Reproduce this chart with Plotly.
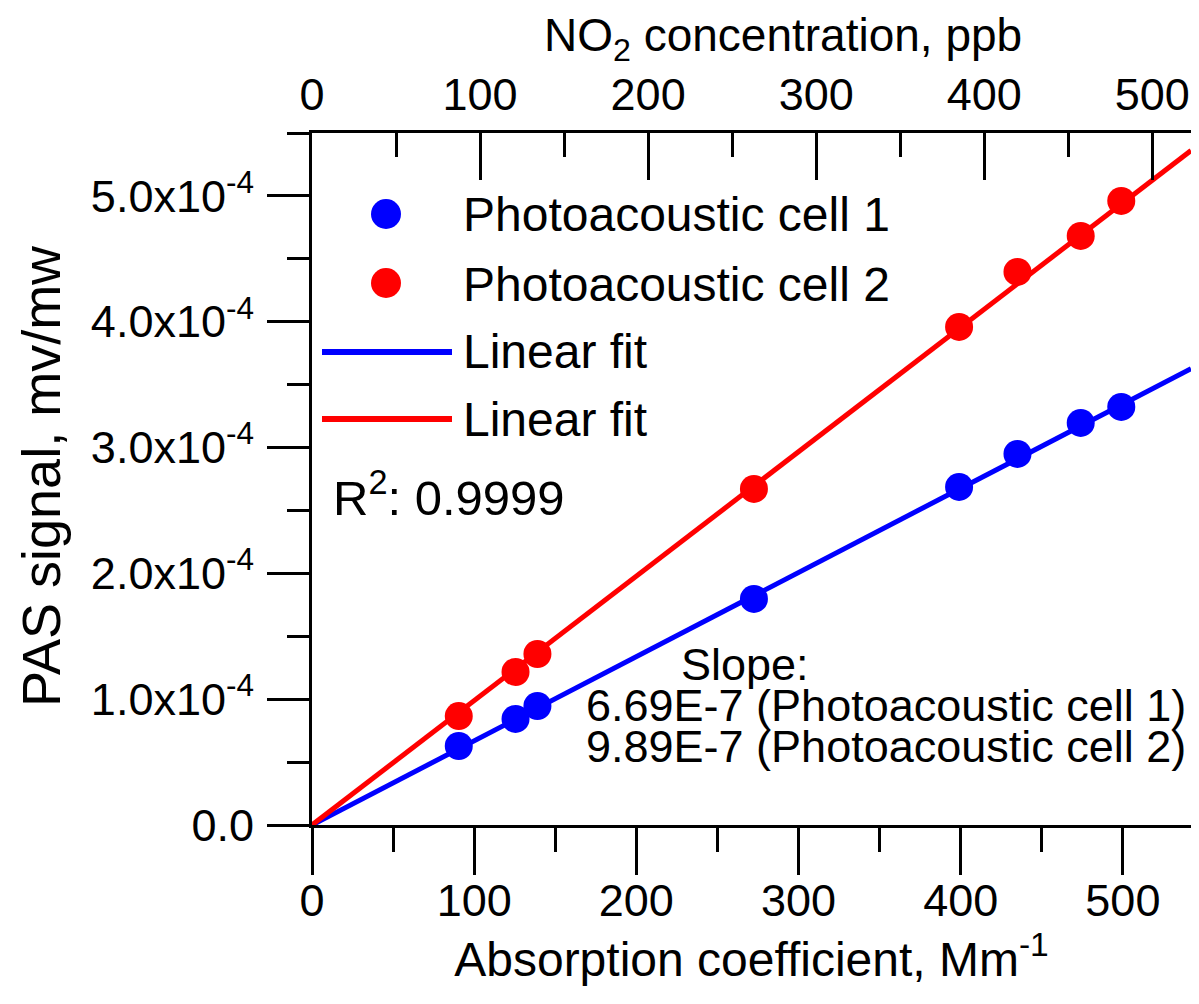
import numpy as np
import plotly.graph_objects as go

# ---------------- data ----------------
absorption = [90.5, 125.5, 139, 272.5, 399, 435, 474, 499]          # Mm^-1
cell1_signal = [0.628e-4, 0.843e-4, 0.946e-4, 1.797e-4, 2.687e-4, 2.949e-4, 3.196e-4, 3.323e-4]
cell2_signal = [0.866e-4, 1.216e-4, 1.359e-4, 2.671e-4, 3.959e-4, 4.396e-4, 4.682e-4, 4.960e-4]
slopes = [6.69e-7, 9.89e-7]
series_names = ["Photoacoustic cell 1", "Photoacoustic cell 2"]
fit_names = ["Linear fit", "Linear fit"]
r_squared = "0.9999"

x_range = [0, 542]          # absorption coefficient axis, Mm^-1
top_range = [0, 523]        # NO2 concentration axis, ppb
y_range = [0, 5.5e-4]
y_tickvals = [0, 1e-4, 2e-4, 3e-4, 4e-4, 5e-4]
y_ticktext = ["0.0", "1.0x10<sup>-4</sup>", "2.0x10<sup>-4</sup>", "3.0x10<sup>-4</sup>",
              "4.0x10<sup>-4</sup>", "5.0x10<sup>-4</sup>"]

BLUE = "#0000ff"
RED = "#ff0000"
FONT = "Arial, Liberation Sans, sans-serif"

# page has an 8px body margin; figure sized so the page does not overflow
OFF = 8
W, H = 1199 - 2 * OFF, 1004 - 2 * OFF
L, T = 312 - OFF, 133 - OFF
B = H - (825 - OFF)
R = 0
PW, PH = W - L - R, H - T - B


def px(xp):      # page pixel -> paper x
    return (xp - OFF - L) / PW


def py(yp):      # page pixel -> paper y
    return (H - B - (yp - OFF)) / PH


fig = go.Figure()

fit_x = np.array(x_range, dtype=float)
for s, col in zip(slopes, [BLUE, RED]):
    fig.add_trace(go.Scatter(x=fit_x, y=s * fit_x, mode="lines",
                             line=dict(color=col, width=5), showlegend=False,
                             hoverinfo="skip"))

for ys, col, name in zip([cell1_signal, cell2_signal], [BLUE, RED], series_names):
    fig.add_trace(go.Scatter(x=absorption, y=ys, mode="markers", name=name,
                             marker=dict(color=col, size=28, line=dict(width=0)),
                             showlegend=False))

# dummy trace to activate the top axis
fig.add_trace(go.Scatter(x=[None], y=[None], xaxis="x2", yaxis="y",
                         showlegend=False, hoverinfo="skip"))

axis_common = dict(showline=True, linecolor="black", linewidth=3, showgrid=False,
                   zeroline=False, tickcolor="black", tickwidth=3,
                   tickfont=dict(family=FONT, size=45, color="black"))

fig.update_layout(
    width=W, height=H,
    margin=dict(l=L, r=R, t=T, b=B, pad=0),
    paper_bgcolor="white", plot_bgcolor="white",
    showlegend=False,
    xaxis=dict(range=x_range, side="bottom", ticks="outside", ticklen=47,
               tickmode="linear", tick0=0, dtick=100, ticklabelstandoff=-13,
               minor=dict(ticks="outside", ticklen=24, tickwidth=3, tickcolor="black",
                          tickmode="linear", tick0=0, dtick=50),
               title=dict(text="Absorption coefficient, Mm<sup>-1</sup>",
                          font=dict(family=FONT, size=48, color="black"), standoff=14),
               **axis_common),
    xaxis2=dict(range=top_range, overlaying="x", side="top", anchor="y", ticks="inside",
                ticklen=47, tickmode="linear", tick0=0, dtick=100, ticklabelstandoff=2,
                minor=dict(ticks="inside", ticklen=24, tickwidth=3, tickcolor="black",
                           tickmode="linear", tick0=0, dtick=50),
                **axis_common),
    yaxis=dict(range=y_range, ticks="outside", ticklen=42, tickmode="array",
               tickvals=y_tickvals, ticktext=y_ticktext, ticklabelstandoff=4,
               minor=dict(ticks="outside", ticklen=22, tickwidth=3, tickcolor="black",
                          tickmode="linear", tick0=0, dtick=0.5e-4),
               **axis_common),
)

# top axis title
fig.add_annotation(x=px(783), y=py(OFF), xref="paper", yref="paper",
                   xanchor="center", yanchor="top", borderpad=0,
                   text="NO<sub>2</sub> concentration, ppb", showarrow=False,
                   font=dict(family=FONT, size=46, color="black"))

# y axis title (rotated annotation)
fig.add_annotation(x=px(OFF + 1), y=py(476), xref="paper", yref="paper",
                   xanchor="left", yanchor="middle", textangle=-90,
                   text="PAS signal, mv/mw", showarrow=False,
                   font=dict(family=FONT, size=54, color="black"))

# ---------- hand-drawn legend ----------
shapes = []
for yp, col in [(214, BLUE), (283, RED)]:
    shapes.append(dict(type="circle", xref="paper", yref="paper",
                       xsizemode="pixel", ysizemode="pixel",
                       xanchor=px(386), yanchor=py(yp),
                       x0=-15, x1=15, y0=-15, y1=15,
                       fillcolor=col, line=dict(width=0)))
for yp, col in [(352, BLUE), (419, RED)]:
    shapes.append(dict(type="line", xref="paper", yref="paper",
                       x0=px(322), x1=px(452), y0=py(yp), y1=py(yp),
                       line=dict(color=col, width=6)))
fig.update_layout(shapes=shapes)

legend_texts = [series_names[0], series_names[1], fit_names[0], fit_names[1]]
for txt, yp in zip(legend_texts, [215, 284, 351, 420]):
    fig.add_annotation(x=px(461), y=py(yp), xref="paper", yref="paper",
                       xanchor="left", yanchor="middle", text=txt, showarrow=False,
                       font=dict(family=FONT, size=48, color="black"))

fig.add_annotation(x=px(331), y=py(494), xref="paper", yref="paper",
                   xanchor="left", yanchor="middle",
                   text="R<sup>2</sup>: " + r_squared, showarrow=False,
                   font=dict(family=FONT, size=49, color="black"))

slope_lines = ["Slope:",
               f"{slopes[0]:.2E}".replace("E-07", "E-7") + f" ({series_names[0]})",
               f"{slopes[1]:.2E}".replace("E-07", "E-7") + f" ({series_names[1]})"]
for txt, yp, xc in zip(slope_lines, [664, 705, 746], [745, 886, 886]):
    fig.add_annotation(x=px(xc), y=py(yp), xref="paper", yref="paper",
                       xanchor="center", yanchor="middle", text=txt, showarrow=False,
                       borderpad=0,
                       font=dict(family=FONT, size=45, color="black"))

fig.write_html("out.html")
